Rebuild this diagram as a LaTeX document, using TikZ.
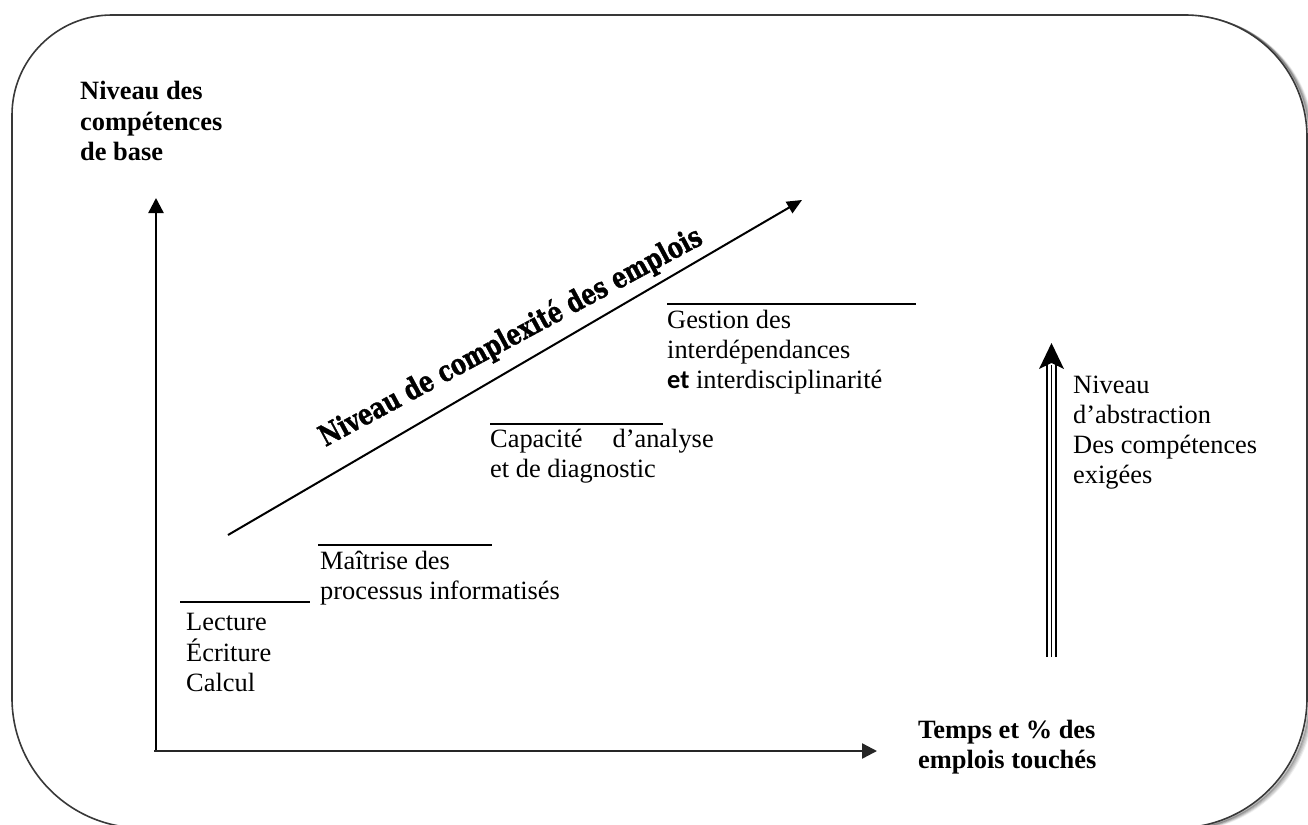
\documentclass[tikz,border=0pt]{standalone}
\usepackage{fontspec}
\setmainfont{Liberation Serif}
\newfontfamily\calfont{Carlito}
\newfontfamily\slabfont[FakeStretch=0.78,FakeBold=1.2]{DejaVu Serif}
\usetikzlibrary{arrows.meta}

% left-aligned block of lines whose reference point is the first baseline
\newcommand\txtlines[1]{\begin{tabular}[t]{@{}l@{}}#1\end{tabular}}

\begin{document}
\begin{tikzpicture}[x=1pt,y=-1pt,
  lbl/.style={anchor=base west, inner sep=0pt, font=\fontsize{26.4}{30}\selectfont},
  blbl/.style={anchor=base west, inner sep=0pt, font=\fontsize{26.4}{30}\selectfont\bfseries},
  axis/.style={line width=2.4pt, -{Triangle[length=15pt,width=15pt]}},
  trend/.style={line width=2pt, -{Triangle[length=15pt,width=13pt]}},
  ledge/.style={line width=1.6pt},
  framepath/.style={line width=1.6pt, draw=black!78},
]
\useasboundingbox (0,0) rectangle (1308,824);

% rounded frame with a soft shadow to the right
\begin{scope}
\clip (0,0) rectangle (1308,824);
\foreach \o/\op in {6/0.06,5/0.09,4/0.13,3/0.18,2/0.25}{
\draw[line width=2pt, draw=black, opacity=\op, shift={(\o,0.4*\o)}]
  (1100,15) -- (1185,15) .. controls (1252.4,15) and (1307,69.6) .. (1307,137)
  -- (1307,698) .. controls (1307,769.8) and (1248.8,828) .. (1177,828) -- (1100,828);
}
\fill[white]
  (12,115) .. controls (12,59.8) and (56.8,15) .. (112,15)
  -- (1185,15) .. controls (1252.4,15) and (1307,69.6) .. (1307,137)
  -- (1307,698) .. controls (1307,769.8) and (1248.8,828) .. (1177,828)
  -- (142,828) .. controls (70.2,828) and (12,769.8) .. (12,698) -- cycle;
\draw[framepath]
  (12,115) .. controls (12,59.8) and (56.8,15) .. (112,15)
  -- (1185,15) .. controls (1252.4,15) and (1307,69.6) .. (1307,137)
  -- (1307,698) .. controls (1307,769.8) and (1248.8,828) .. (1177,828)
  -- (142,828) .. controls (70.2,828) and (12,769.8) .. (12,698) -- cycle;
\end{scope}

% axes
\coordinate (O) at (156,751);
\coordinate (ytop) at (156,198);
\coordinate (xstart) at (154,751);
\coordinate (xend) at (877,751);
\draw[axis] (O) -- (ytop);
\draw[axis, draw=black!85] (xstart) -- (xend);

\node[blbl] (ylab) at (80,100) {\txtlines{Niveau des\\compétences\\de base}};
\node[blbl] (xlab) at (918,738) {\txtlines{Temps et \% des\\emplois touchés}};

% rising trend of job complexity
\coordinate (t0) at (228,535);
\coordinate (t1) at (802,200);
\draw[trend] (t0) -- (t1);
\node[anchor=base, inner sep=0pt, rotate=28.3,
      font=\slabfont\bfseries\fontsize{29}{31}\selectfont] (cplx) at (515,345)
  {Niveau de complexité des emplois};

% steps of competences
\draw[ledge] (180,602) -- (310,602);
\node[lbl] (s1) at (186,630) {\txtlines{Lecture\\Écriture\\Calcul}};

\draw[ledge] (318,545) -- (492,545);
\node[lbl] (s2) at (320,569) {\txtlines{Maîtrise des\\processus informatisés}};

\draw[ledge] (490,424) -- (663,424);
\node[lbl] (s3) at (490,447) {\txtlines{Capacité\hspace{30pt}d’analyse\\et de diagnostic}};

\draw[ledge] (667,304) -- (916,304);
\node[lbl] (s4) at (667,328) {\txtlines{Gestion des\\interdépendances\\{\calfont\bfseries et} interdisciplinarité}};

% abstraction level: triple-shafted arrow
\coordinate (ab) at (1051.5,657);
\coordinate (ah) at (1051.5,343);
\foreach \dx in {-4.5,0,4.5}{
  \draw[line width=1.4pt] ([xshift=\dx pt]ab) -- ([xshift=\dx pt, yshift=-22pt]ah);
}
\fill (ah) -- ++(12.5,26) -- ++(-12.5,-6) -- ++(-12.5,6) -- cycle;
\node[lbl] (abs) at (1073,393) {\txtlines{Niveau\\d’abstraction\\Des compétences\\exigées}};
\end{tikzpicture}
\end{document}
